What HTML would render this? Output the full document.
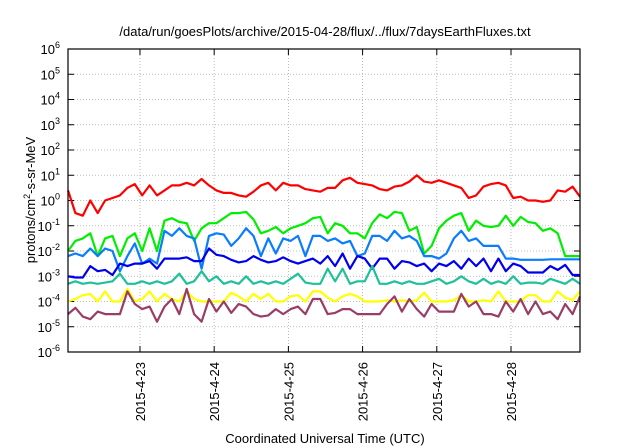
<!DOCTYPE html>
<html><head><meta charset="utf-8"><style>
body{margin:0;background:#fff;}
svg{display:block;font-family:"Liberation Sans",sans-serif;}
</style></head><body>
<svg id="chart" width="640" height="448"></svg>
<script>
const startDay = 22.03, stepDay = 0.1;
const dayTicks = [23,24,25,26,27,28];
const dayLabels = ["2015-4-23","2015-4-24","2015-4-25","2015-4-26","2015-4-27","2015-4-28"];
const decadeTicks = [-6,-5,-4,-3,-2,-1,0,1,2,3,4,5,6];
const redLog = [0.4,-0.5,-0.6,0,-0.5,0,0.1,0.2,0.5,0.65,0.2,0.6,0.2,0.4,0.6,0.6,0.7,0.6,0.85,0.6,0.4,0.3,0.3,0.2,0.15,0.35,0.6,0.7,0.4,0.7,0.6,0.6,0.45,0.4,
0.35,0.5,0.5,0.8,0.9,0.7,0.65,0.6,0.45,0.4,0.55,0.6,0.75,1.0,0.75,0.7,0.8,0.7,0.6,0.5,0.1,0.2,0.55,0.65,0.7,0.6,0.1,0.15,0.0,0.0,-0.05,0.0,0.4,0.35,0.55,0.15];
const greenLog = [-2,-1.6,-1.5,-1.3,-2.2,-1.5,-1.4,-2.2,-1.5,-1.3,-2.0,-1.1,-2.0,-0.8,-0.7,-0.85,-0.9,-1.6,-1.1,-0.9,-0.9,-0.7,-0.5,-0.5,-0.45,-0.75,-1.3,-1.2,-1.05,-1.3,-1.1,-1.0,-0.9,-0.7,
-0.65,-1.3,-0.9,-1.0,-1.3,-1.3,-1.5,-0.9,-0.55,-0.7,-0.45,-0.5,-1.2,-1.05,-2.1,-1.8,-1.1,-0.8,-0.6,-0.5,-1.2,-0.8,-1.0,-1.05,-1.0,-0.6,-1.0,-0.65,-0.85,-0.9,-1.2,-1.1,-1.3,-2.2,-2.2,-2.2];
const lightBlueLog = [-2.2,-2.1,-2.2,-1.9,-2.2,-1.9,-2.0,-2.8,-2.2,-1.7,-2.5,-2.3,-2.5,-1.2,-1.4,-1.1,-1.4,-1.5,-2.7,-1.4,-1.3,-1.35,-1.8,-1.5,-1.1,-1.4,-2.2,-1.5,-2.1,-1.5,-1.6,-1.4,-2.2,-1.4,
-1.4,-1.6,-1.5,-1.7,-1.6,-2.2,-2.1,-1.4,-1.4,-1.6,-1.2,-1.5,-1.4,-1.6,-2.2,-2.2,-2.3,-2.1,-1.5,-1.2,-1.6,-1.5,-1.8,-1.8,-1.8,-2.3,-2.3,-2.35,-2.35,-2.35,-2.35,-2.33,-2.33,-2.33,-2.33,-2.33];
const blueLog = [-3.0,-3.05,-3.05,-2.6,-2.8,-2.75,-2.95,-2.5,-2.6,-2.5,-2.5,-2.4,-2.7,-2.3,-2.3,-2.3,-2.25,-2.4,-2.4,-1.9,-2.15,-2.2,-2.35,-2.45,-2.4,-2.2,-2.35,-2.45,-2.4,-2.25,-2.4,-2.5,-2.4,-2.3,
-2.5,-2.2,-2.6,-2.1,-2.7,-2.2,-2.3,-2.7,-2.3,-2.3,-2.7,-2.4,-2.45,-2.6,-2.5,-2.8,-2.5,-2.6,-2.4,-2.7,-2.3,-2.6,-2.3,-2.8,-2.3,-2.8,-2.5,-2.6,-2.85,-2.85,-2.85,-2.6,-2.75,-2.55,-2.95,-2.95];
const tealLog = [-3.3,-3.2,-3.3,-3.25,-3.3,-3.25,-3.2,-2.9,-3.3,-3.3,-3.2,-3.3,-3.2,-3.3,-3.2,-2.9,-3.3,-3.2,-2.8,-3.2,-3.0,-3.3,-3.2,-3.3,-3.0,-3.3,-3.2,-3.3,-3.2,-3.3,-3.1,-2.9,-3.25,-3.3,
-3.3,-2.7,-3.2,-2.7,-3.3,-3.2,-3.2,-2.6,-3.3,-3.3,-3.2,-3.3,-3.2,-3.3,-3.3,-3.2,-3.1,-3.3,-3.2,-3.0,-3.2,-3.3,-3.1,-3.3,-3.2,-3.3,-3.0,-3.3,-3.25,-3.25,-3.3,-3.1,-3.2,-3.3,-3.1,-3.3];
const yellowLog = [-4.0,-3.9,-3.75,-3.7,-4.0,-3.6,-4.0,-4.0,-3.5,-4.0,-3.9,-3.6,-4.0,-3.7,-3.9,-4.0,-3.6,-3.9,-4.0,-4.0,-4.0,-4.0,-3.65,-3.8,-4.0,-3.7,-3.9,-3.7,-4.0,-4.0,-3.8,-3.75,-4.0,-3.6,
-3.6,-3.85,-4.0,-3.8,-3.7,-3.8,-4.0,-4.0,-4.0,-3.95,-4.0,-3.95,-4.0,-3.95,-3.65,-4.0,-4.0,-4.0,-3.95,-3.75,-4.0,-4.0,-3.95,-4.0,-3.6,-4.0,-4.0,-4.0,-3.75,-3.75,-4.0,-4.0,-3.6,-3.85,-3.95,-3.6];
const purpleLog = [-4.5,-4.25,-4.6,-4.7,-4.4,-4.5,-4.5,-4.5,-3.6,-4.1,-4.3,-4.2,-4.8,-4.2,-3.9,-4.5,-3.5,-4.5,-4.8,-3.9,-4.4,-4.0,-4.45,-4.1,-4.2,-4.5,-4.6,-4.55,-4.3,-4.5,-4.3,-4.2,-4.5,-3.9,
-3.9,-4.5,-4.45,-4.3,-4.3,-4.5,-4.5,-4.5,-4.5,-4.1,-3.8,-4.4,-3.9,-4.3,-4.6,-4.1,-4.4,-4.4,-4.4,-3.7,-4.2,-4.0,-4.5,-4.5,-4.6,-4.0,-4.4,-3.9,-4.5,-4.0,-4.5,-4.4,-4.7,-4.1,-4.5,-3.8];

const NS="http://www.w3.org/2000/svg";
const svg=document.getElementById('chart');
const L=68,R=580,T=49,B=352;
const xMin=22.03,xMax=28.93;
function xs(d){return L+(d-xMin)/(xMax-xMin)*(R-L);}
function ys(lg){return B-(lg+6)/12*(B-T);}
function mk(tag,attrs,parent){const e=document.createElementNS(NS,tag);for(const k in attrs)e.setAttribute(k,attrs[k]);(parent||svg).appendChild(e);return e;}

// grid
decadeTicks.forEach(v=>{
  if(v>-6&&v<6){const g=mk('line',{x1:L,x2:R,y1:ys(v),y2:ys(v),stroke:'#aaa','stroke-width':0.8,'stroke-dasharray':'1,2'});
  
  }
  const tl=mk('line',{x1:L,x2:L+6,y1:ys(v),y2:ys(v),stroke:'#000'});
  
  
  const tr=mk('line',{x1:R-6,x2:R,y1:ys(v),y2:ys(v),stroke:'#000'});
  
  
  const t=mk('text',{x:L-8,y:ys(v)+5,'text-anchor':'end','font-size':13});
  
  
  t.appendChild(document.createTextNode('10'));
  const s=mk('tspan',{dy:-6,'font-size':9},t);s.textContent=String(v);
});
dayTicks.forEach((d,i)=>{
  const x=xs(d);
  const g=mk('line',{x1:x,x2:x,y1:T,y2:B,stroke:'#aaa','stroke-width':0.8,'stroke-dasharray':'1,2'});
  
  
  const tb=mk('line',{x1:x,x2:x,y1:B-6,y2:B,stroke:'#000'});
  
  
  const tt=mk('line',{x1:x,x2:x,y1:T,y2:T+6,stroke:'#000'});
  
  
  const t=mk('text',{x:0,y:0,'text-anchor':'end','font-size':13,transform:'translate('+(x+5)+','+(B+10)+') rotate(-90)'});
  
  
  t.textContent=dayLabels[i];
});

const series=[[redLog,'#ff0000','red-series'],[greenLog,'#00ee00','green-series'],[lightBlueLog,'#0a7cff','light-blue-series'],[blueLog,'#0000ee','blue-series'],[tealLog,'#1fc09a','teal-series'],[yellowLog,'#ffff00','yellow-series'],[purpleLog,'#9a3d66','purple-series']];
series.forEach(([arr,col,name])=>{
  const pts=arr.map((v,i)=>xs(startDay+i*stepDay).toFixed(1)+','+ys(v).toFixed(1)).join(' ');
  const p=mk('polyline',{points:pts,fill:'none',stroke:col,'stroke-width':2.2,'stroke-linejoin':'round'});
  
  
});

const fr=mk('rect',{x:L,y:T,width:R-L,height:B-T,fill:'none',stroke:'#000','stroke-width':1.2});



const title=mk('text',{x:325,y:36,'text-anchor':'middle','font-size':13});


title.textContent='/data/run/goesPlots/archive/2015-04-28/flux/../flux/7daysEarthFluxes.txt';

const xt=mk('text',{x:325,y:443,'text-anchor':'middle','font-size':13});


xt.textContent='Coordinated Universal Time (UTC)';

const yt=mk('text',{x:0,y:0,'text-anchor':'middle','font-size':13,transform:'translate(35,200) rotate(-90)'});


yt.appendChild(document.createTextNode('protons/cm'));
const sup=mk('tspan',{dy:-5,'font-size':9},yt);sup.textContent='2';
const rest=mk('tspan',{dy:5},yt);rest.textContent='-s-sr-MeV';
</script>
</body></html>
